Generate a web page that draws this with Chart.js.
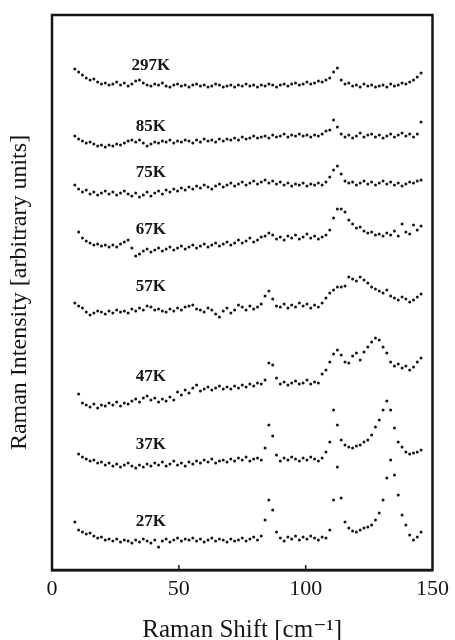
<!DOCTYPE html>
<html>
<head>
<meta charset="utf-8">
<script src="https://cdn.jsdelivr.net/npm/chart.js@4.4.1/dist/chart.umd.min.js"></script>
<style>
  html, body { margin: 0; padding: 0; background: #fff; }
  #wrap { width: 455px; height: 640px; }
</style>
</head>
<body>
<div id="wrap"><canvas id="raman"></canvas></div>
<script>
// Raman shift (cm^-1) sampling grid
const shift = [
  9, 10.5, 12, 13.5, 15, 16.5, 18, 19.5, 21, 22.5,
  24, 25.5, 27, 28.5, 30, 31.5, 33, 34.5, 36, 37.5,
  39, 40.5, 42, 43.5, 45, 46.5, 48, 49.5, 51, 52.5,
  54, 55.5, 57, 58.5, 60, 61.5, 63, 64.5, 66, 67.5,
  69, 70.5, 72, 73.5, 75, 76.5, 78, 79.5, 81, 82.5,
  84, 85.5, 87, 88.5, 90, 91.5, 93, 94.5, 96, 97.5,
  99, 100.5, 102, 103.5, 105, 106.5, 108, 109.5, 111, 112.5,
  114, 115.5, 117, 118.5, 120, 121.5, 123, 124.5, 126, 127.5,
  129, 130.5, 132, 133.5, 135, 136.5, 138, 139.5, 141, 142.5,
  144, 145.5
];

// intensities (arbitrary units, spectra already offset vertically)
const t297 = [
  501, 498, 495, 492, 490, 491, 488, 486, 487, 485,
  486, 488, 485, 487, 484, 486, 489, 490, 487, 485,
  484, 486, 485, 487, 484, 483, 485, 486, 484, 485,
  483, 485, 486, 484, 485, 483, 484, 486, 485, 483,
  484, 485, 483, 485, 484, 486, 484, 485, 483, 485,
  484, 486, 485, 483, 485, 486, 484, 486, 487, 485,
  486, 488, 486, 487, 489, 488, 490, 492, 498, 502,
  490, 486, 487, 484, 485, 483, 486, 484, 485, 483,
  484, 485, 483, 486, 484, 485, 487, 486, 488, 490,
  493, 497
];
const t85 = [
  434, 431, 429, 427, 428, 426, 424, 425, 423, 425,
  424, 426, 425, 427, 429, 430, 428, 430, 427, 424,
  426, 428, 427, 429, 428, 430, 427, 429, 428, 430,
  429, 427, 430, 428, 431, 429, 430, 428, 431, 429,
  431, 430, 432, 430, 433, 431, 432, 434, 432, 433,
  434, 432, 435, 433, 434, 436, 433, 435, 434, 436,
  434, 435, 433, 435, 434, 436, 439, 440, 450, 443,
  436, 433, 435, 432, 434, 437, 433, 435, 436, 433,
  435, 432, 434, 436, 433, 435, 437, 434, 436, 433,
  436, 448
];
const t75 = [
  385, 381, 378, 380, 376, 378, 375, 377, 379, 376,
  378, 375, 377, 379, 376, 374, 377, 373, 375, 378,
  374, 377, 379, 376, 380, 378, 381, 379, 382, 380,
  383, 381, 384, 382, 385, 383, 381, 384, 386, 383,
  385, 387, 384, 386, 388, 385, 387, 389, 386, 388,
  390, 387, 389, 386, 388, 385, 387, 384, 386, 385,
  387, 384, 386, 385, 387, 385, 388, 393, 400, 404,
  396, 389, 387, 388, 385, 387, 389, 386, 388, 385,
  387, 389, 386, 388, 385, 387, 384, 386, 388, 387,
  389, 390
];
const t67 = [
  null, 338, 332, 329, 327, 325, 326, 324, 325, 323,
  325, 323, 326, 328, 330, 322, 314, 316, 319, 321,
  318, 320, 322, 319, 321, 323, 320, 322, 324, 321,
  323, 325, 322, 324, 326, 323, 325, 327, 324, 326,
  328, 325, 327, 330, 327, 329, 332, 328, 330, 333,
  334, 337, 335, 331, 333, 330, 334, 332, 335, 331,
  333, 336, 332, 334, 331, 333, 335, 340, 352, 361,
  361, 358, 350, 346, 342, 343, 339, 337, 338, 335,
  336, 334, 337, 335, 339, 334, 346, 338, 336, 345,
  340, 344
];
const t57 = [
  267, 264, 262, 258, 255, 257, 259, 258, 256, 259,
  257, 260, 258, 259, 257, 261, 259, 262, 260, 264,
  263, 260, 261, 259, 258, 261, 259, 262, 260, 263,
  264, 265, 261, 260, 258, 262, 260, 256, 253, 259,
  262, 257, 260, 265, 263, 260, 264, 261, 263, 266,
  274, 279, 271, 264, 263, 266, 262, 265, 263, 267,
  264, 266, 262, 265, 263, 267, 272, 277, 280, 283,
  283, 284, 293, 291, 289, 293, 290, 287, 283, 281,
  279, 277, 280, 274, 272, 270, 273, 271, 268, 270,
  273, 276
];
const t47 = [
  null, 176, 167, 165, 163, 166, 162, 165, 164, 167,
  165, 168, 164, 167, 166, 169, 171, 168, 172, 174,
  170, 172, 168, 171, 169, 173, 170, 178, 175, 180,
  177, 182, 185, 179, 181, 183, 180, 182, 184, 181,
  183, 181, 184, 182, 185, 183, 186, 184, 187, 186,
  190, 207, 205, 192, 186, 188, 185, 187, 189, 186,
  187, 190, 186, 188, 187, 196, 200, 208, 216, 220,
  215, 208, 207, 214, 217, 210, 218, 223, 228, 232,
  230, 223, 217, 208, 204, 206, 202, 204, 200, 203,
  208, 212
];
const t37 = [
  null, 116, 113, 111, 109, 110, 107, 108, 105, 107,
  104, 106, 103, 105, 107, 104, 102, 105, 103, 106,
  104, 107, 105, 108, 104, 106, 109, 105, 107, 104,
  108, 106, 109, 107, 110, 108, 111, 107, 109, 110,
  108, 111, 109, 112, 110, 113, 109, 111, 112, 110,
  122, 145, 134, 115, 109, 112, 110, 113, 111, 109,
  112, 110, 113, 111, 109, 112, 118, 128, 160, 145,
  130, 125, 123, 122, 124, 125, 128, 130, 135, 143,
  150, 160, 169, 160, 142, 128, 123, 118, 116, 117,
  118, 120
];
const t27 = [
  48, 40, 38, 36, 37, 34, 32, 33, 30, 31,
  29, 31, 28, 30, 29, 27, 30, 28, 31, 29,
  27, 30, 23, 29, 31, 28, 30, 32, 29, 31,
  30, 32, 29, 31, 28, 30, 32, 29, 31, 30,
  28, 31, 29, 30, 32, 29, 31, 33, 30, 34,
  50, 70, 60, 38, 32, 29, 33, 31, 34, 30,
  33, 31, 34, 32, 30, 33, 32, 40, 70, 103,
  72, 48, 42, 39, 38, 40, 42, 43, 45, 50,
  57, 70, 92, 110, 95, 75, 55, 45, 35, 30,
  33, 38
];

const temps = ["297K", "85K", "75K", "67K", "57K", "47K", "37K", "27K"];
const spectra = [t297, t85, t75, t67, t57, t47, t37, t27];

const serif = "'Liberation Serif', 'DejaVu Serif', serif";
const ink = "#151515";

// temperature label sits above each trace, near 39 cm^-1
const LABEL_X = 39;
const LABEL_REF = 19; // index of shift value used for label height
const LABEL_RISE = 19;

const datasets = spectra.map((arr, i) => ({
  label: temps[i],
  data: shift
    .map((x, k) => ({ x: x, y: arr[k] }))
    .filter((p) => p.y !== null),
  showLine: false,
  pointRadius: 1.5,
  pointBorderWidth: 0,
  pointBackgroundColor: ink,
  borderColor: ink,
}));

const framePlugin = {
  id: "frame",
  afterDraw(chart) {
    const { ctx, chartArea: a, scales } = chart;
    ctx.save();
    ctx.strokeStyle = ink;
    ctx.lineWidth = 2.5;
    ctx.strokeRect(a.left, a.top, a.right - a.left, a.bottom - a.top);

    // small inward ticks on the bottom axis
    ctx.lineWidth = 1.5;
    [50, 100].forEach((v) => {
      const px = scales.x.getPixelForValue(v);
      ctx.beginPath();
      ctx.moveTo(px, a.bottom);
      ctx.lineTo(px, a.bottom - 5);
      ctx.stroke();
    });

    // temperature labels
    ctx.fillStyle = ink;
    ctx.font = "bold 17px " + serif;
    ctx.textAlign = "center";
    ctx.textBaseline = "middle";
    spectra.forEach((arr, i) => {
      const px = scales.x.getPixelForValue(LABEL_X);
      const py = scales.y.getPixelForValue(arr[LABEL_REF] + LABEL_RISE);
      ctx.fillText(temps[i], px, py);
    });
    ctx.restore();
  },
};

new Chart(document.getElementById("raman"), {
  type: "scatter",
  data: { datasets },
  options: {
    responsive: true,
    maintainAspectRatio: false,
    animation: false,
    layout: { padding: { top: 15, right: 18, left: 0, bottom: 0 } },
    plugins: { legend: { display: false }, tooltip: { enabled: false } },
    scales: {
      x: {
        type: "linear",
        min: 0,
        max: 150,
        afterFit: (s) => { s.height = 70; },
        ticks: {
          stepSize: 50,
          color: ink,
          padding: 6,
          font: { family: serif, size: 22 },
        },
        grid: { display: false, drawTicks: false },
        border: { color: ink, width: 2.5 },
        title: {
          display: true,
          text: "Raman Shift [cm⁻¹]",
          color: ink,
          font: { family: serif, size: 25, lineHeight: 0.8 },
          padding: 0,
        },
      },
      y: {
        min: 0,
        max: 555,
        afterFit: (s) => { s.width = 52; },
        ticks: { display: false },
        grid: { display: false, drawTicks: false },
        border: { color: ink, width: 2 },
        title: {
          display: true,
          text: "Raman Intensity [arbitrary units]",
          color: ink,
          font: { family: serif, size: 24, lineHeight: 1 },
          padding: { top: 8, bottom: 0 },
        },
      },
    },
  },
  plugins: [framePlugin],
});
</script>
</body>
</html>
